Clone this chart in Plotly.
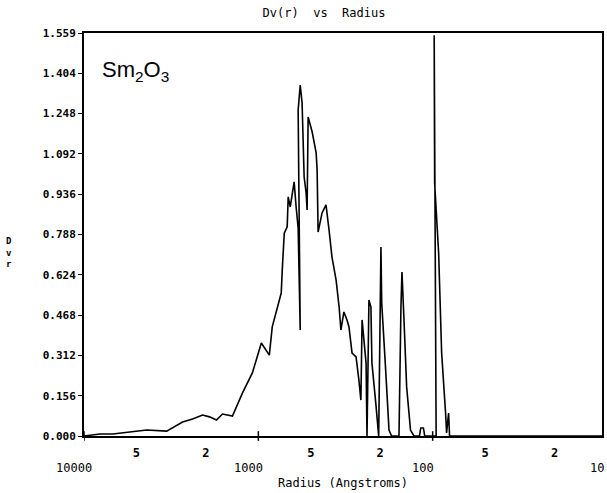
import math
import plotly.graph_objects as go

# Radius (Angstroms) and Dv(r) values
radius = [10000, 8100, 6830, 5680, 4370, 3355, 3100, 2720, 2384, 2089, 1905, 1738,
          1606, 1503, 1408, 1234, 1082, 961, 865, 832, 779, 739, 729, 710, 683,
          674, 656, 648, 623, 607, 591, 575, 591, 575, 561, 546, 532, 525, 518,
          491, 466, 460, 454, 431, 409, 393, 378, 358, 344, 336, 323, 310, 302,
          290, 275, 265, 258, 254, 248, 241, 238, 232, 226, 223, 212, 204, 198,
          196, 186, 178, 172, 156, 152, 150, 146, 141, 134, 128, 119, 117, 113,
          111, 95.5, 98, 97.4, 92.4, 88.8, 84.3, 83.2, 81.0, 80.0, 10]
dvr = [0.000, 0.008, 0.008, 0.015, 0.023, 0.019, 0.031, 0.054, 0.066, 0.081, 0.074, 0.062,
       0.085, 0.081, 0.077, 0.166, 0.244, 0.360, 0.313, 0.422, 0.499, 0.553, 0.642, 0.785, 0.809,
       0.925, 0.886, 0.913, 0.983, 0.886, 0.805, 0.410, 1.261, 1.358, 1.288, 1.002, 0.940, 0.874, 1.234,
       1.176, 1.095, 1.029, 0.789, 0.863, 0.894, 0.797, 0.692, 0.603, 0.499, 0.410, 0.480, 0.449, 0.422,
       0.321, 0.306, 0.217, 0.139, 0.449, 0.360, 0.282, 0.000, 0.526, 0.499, 0.282, 0.128, 0.000, 0.731,
       0.515, 0.255, 0.023, 0.000, 0.000, 0.499, 0.634, 0.449, 0.190, 0.023, 0.000, 0.000, 0.031, 0.031,
       0.000, 0.000, 1.550, 0.979, 0.708, 0.321, 0.089, 0.012, 0.089, 0.000, 0.000]

y_tickvals = [0, 0.1559, 0.3118, 0.4677, 0.6236, 0.7795, 0.9354, 1.0913, 1.2472, 1.4031, 1.559]
y_ticktext = ["0.000", "0.156", "0.312", "0.468", "0.624", "0.788", "0.936", "1.092", "1.248", "1.404", "1.559"]
x_minor_vals = [5000, 2000, 500, 200, 50, 20]
x_minor_text = ["5", "2", "5", "2", "5", "2"]
x_major_vals = [10000, 1000, 100, 10]
x_major_text = ["10000", "1000", "100", "10"]

FONT = "DejaVu Sans Mono"
X_LO, X_HI = 4, 4 - 520 / 175  # log10 range, reversed

fig = go.Figure()
fig.add_trace(go.Scatter(x=radius, y=dvr, mode="lines",
                         line=dict(color="black", width=1.6), hoverinfo="skip"))

fig.update_layout(
    width=607, height=493,
    margin=dict(l=84, r=3, t=33, b=57),
    paper_bgcolor="white", plot_bgcolor="white",
    showlegend=False,
    font=dict(family=FONT, color="black", size=12),
    title=dict(text="Dv(r)\u00a0\u00a0vs\u00a0\u00a0Radius", x=324 / 607, xanchor="center",
               y=1 - 13 / 493, yanchor="middle", font=dict(family=FONT, size=12)),
)

fig.update_xaxes(
    type="log", range=[X_LO, X_HI], showgrid=False, zeroline=False,
    showline=True, linecolor="black", linewidth=2, mirror=True,
    tickvals=x_minor_vals, ticktext=x_minor_text, ticks="", ticklabelstandoff=5,
    tickfont=dict(family=FONT, size=12, color="black", weight="bold"),
)
fig.update_yaxes(
    range=[0, 1.559], showgrid=False, zeroline=False,
    showline=True, linecolor="black", linewidth=2, mirror=True,
    tickvals=y_tickvals, ticktext=y_ticktext, ticks="outside", ticklen=4,
    tickcolor="black", tickwidth=1,
    tickfont=dict(family=FONT, size=11, color="black", weight="bold"),
)

# major decade labels and their tick marks
for v, t in zip(x_major_vals, x_major_text):
    frac = (X_LO - math.log10(v)) / (X_LO - X_HI)
    fig.add_annotation(x=frac, y=0, xref="paper", yref="paper",
                       text=t, showarrow=False, xanchor="center", yanchor="top",
                       xshift=-10, yshift=-23, font=dict(family=FONT, size=12))
    fig.add_shape(type="line", xref="x", yref="paper",
                  x0=v, x1=v, y0=-0.012, y1=0.012, line=dict(color="black", width=1.5))

fig.add_annotation(x=0.5, xref="paper", yref="paper",
                   y=0, text="Radius\u00a0(Angstroms)", showarrow=False,
                   xanchor="center", yanchor="top", yshift=-38,
                   font=dict(family=FONT, size=12))
fig.add_annotation(x=-0.145, xref="paper", y=0.455, yref="paper",
                   text="D<br>v<br>r", showarrow=False, xanchor="center", yanchor="middle",
                   font=dict(family=FONT, size=9, weight="bold"))
fig.add_annotation(x=0.03, xref="paper", y=0.905, yref="paper",
                   text="Sm<sub>2</sub>O<sub>3</sub>", showarrow=False,
                   xanchor="left", yanchor="middle",
                   font=dict(family="Liberation Sans", size=22))

fig.write_html("out.html")
